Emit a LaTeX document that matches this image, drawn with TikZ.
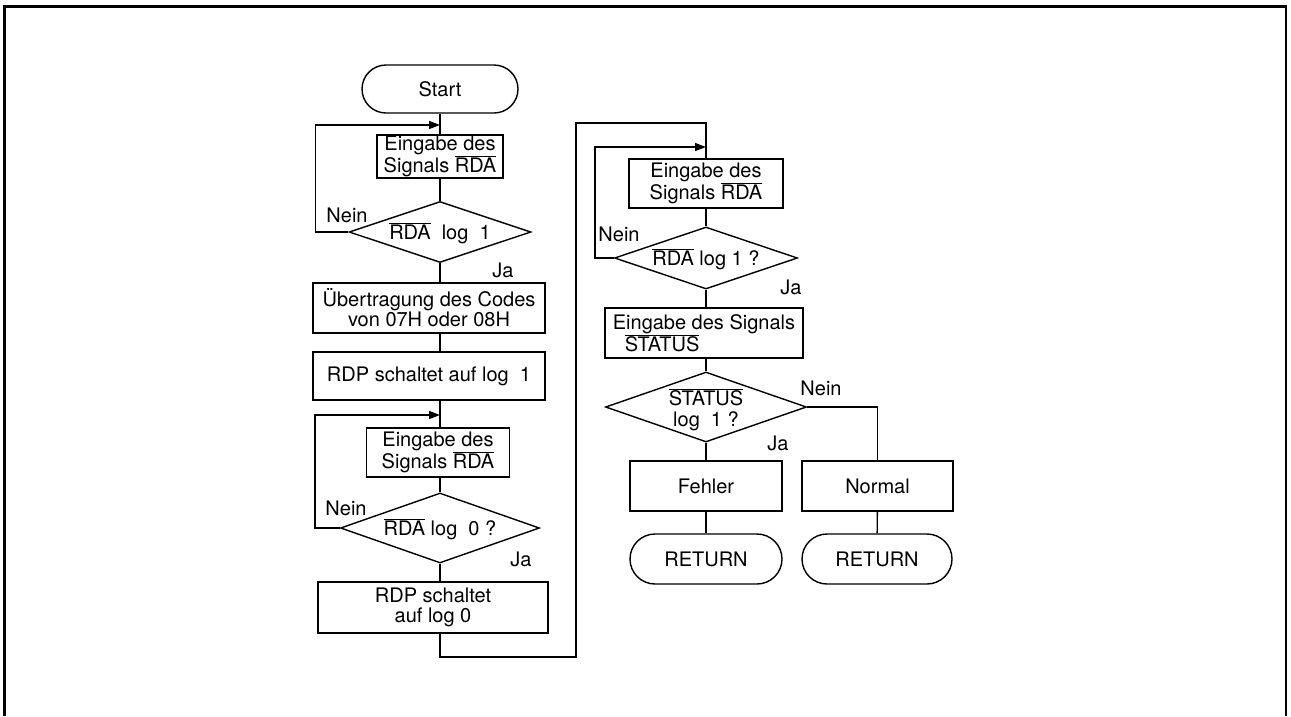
\documentclass[tikz,border=0pt]{standalone}
\usepackage{fontspec}
\setmainfont{TeX Gyre Heros}
\usetikzlibrary{shapes.geometric,arrows.meta}
\newcommand{\olb}[1]{$\overline{\mbox{#1}}$}
\newcommand{\zb}[2][-0.35em]{\makebox[0pt]{\raisebox{#1}[0pt][0pt]{#2}}}
\begin{document}
\begin{tikzpicture}[x=1pt,y=-1pt,
  every node/.style={font=\fontsize{20}{20}\selectfont},
  box/.style={draw, line width=1.4pt, inner sep=0pt, align=center},
  term/.style={draw, line width=1.4pt, rounded corners=24pt, inner sep=0pt},
  dec/.style={draw, shape=diamond, line width=1.4pt, inner sep=0pt},
  lbl/.style={inner sep=0pt},
  line/.style={line width=1.4pt},
  arr/.style={line width=1.4pt, -{Triangle[length=11pt,width=8pt]}},
  frame/.style={line width=2.5pt}
]
\useasboundingbox (0,0) rectangle (1291,716);
% frame
\draw[frame] (4.5,716) -- (4.5,6.5) -- (1286,6.5) -- (1286,716);

% left column
\node[term, minimum width=156pt, minimum height=48pt] (start) at (440,89) {Start};
\node[box, minimum width=126pt, minimum height=43pt] (b1) at (440,156.5) {Eingabe des\\Signals \olb{RDA}};
\node[dec, minimum width=182pt, minimum height=61pt] (d1) at (440,232) {\zb{\olb{RDA}\ \ log\ \ 1}};
\node[box, minimum width=232pt, minimum height=50pt] (b2) at (429,308) {Übertragung des Codes\\von 07H oder 08H};
\node[box, minimum width=232pt, minimum height=48pt] (b3) at (429,376) {RDP schaltet auf log\ \ 1};
\node[box, minimum width=143pt, minimum height=49pt] (b4) at (438,452.5) {Eingabe des\\Signals \olb{RDA}};
\node[dec, minimum width=199pt, minimum height=70pt] (d2) at (440,528) {\zb{\olb{RDA} log\ \ 0 ?}};
\node[box, minimum width=230pt, minimum height=51pt] (b5) at (433,607.5) {RDP schaltet\\auf log 0};

% right column
\node[box, minimum width=154pt, minimum height=49pt] (b6) at (706,183.5) {Eingabe des\\Signals \olb{RDA}};
\node[dec, minimum width=183pt, minimum height=62pt] (d3) at (706,258) {\zb{\olb{RDA} log 1 ?}};
\node[box, minimum width=198pt, minimum height=50pt, align=left] (b7) at (704,333) {Eingabe des Signals\\\hspace*{0.6em}\olb{STATUS}};
\node[dec, minimum width=201pt, minimum height=70pt] (d4) at (706,407) {\zb[-9pt]{\begin{tabular}{@{}c@{}}\olb{STATUS}\\log\ \ 1 ?\end{tabular}}};
\node[box, minimum width=152pt, minimum height=50pt] (f) at (706,486) {Fehler};
\node[box, minimum width=151pt, minimum height=50pt] (n) at (877.5,486) {Normal};
\node[term, minimum width=152pt, minimum height=50pt, rounded corners=25pt] (r1) at (706,559) {RETURN};
\node[term, minimum width=150pt, minimum height=50pt, rounded corners=25pt] (r2) at (877,559) {RETURN};

% labels
\node[lbl] (nein1) at (347,215) {Nein};
\node[lbl] (ja1) at (503,270) {Ja};
\node[lbl] (nein2) at (346,508) {Nein};
\node[lbl] (ja2) at (521,559) {Ja};
\node[lbl] (nein3) at (619,234) {Nein};
\node[lbl] (ja3) at (791,287) {Ja};
\node[lbl] (nein4) at (821,388) {Nein};
\node[lbl] (ja4) at (778,443) {Ja};

% junctions
\coordinate (j1) at (440,125);
\coordinate (j2) at (440,415);
\coordinate (j3) at (706,147);
\coordinate (cb) at (576,657);
\coordinate (ct) at (706,123);

% connectors left
\draw[line] (start) -- (b1);
\draw[arr] (d1.west) -- ++(-33,0) |- (j1);
\draw[line] (b1) -- (d1);
\draw[line] (d1.south) -- (b2.north -| start);
\draw[line] (b2.south -| start) -- (b3.north -| start);
\draw[line] (b3.south -| start) -- (b4.north -| start);
\draw[arr] (d2.west) -- ++(-25,0) |- (j2);
\draw[line] (b4.south -| start) -- (d2.north);
\draw[line] (d2.south) -- (b5.north -| start);
\draw[line] (b5.south -| start) |- (cb) |- (ct) -- (b6.north);

% connectors right
\draw[arr] (d3.west) -- ++(-19,0) |- (j3);
\draw[line] (b6) -- (d3);
\draw[line] (d3.south) -- (b7.north -| d3.south);
\draw[line] (b7.south -| d4.north) -- (d4.north);
\draw[line] (d4.south) -- (f.north);
\draw[line] (d4.east) -| (n.north);
\draw[line] (f) -- (r1);
\draw[line] (n) -- (r2);
\end{tikzpicture}
\end{document}
